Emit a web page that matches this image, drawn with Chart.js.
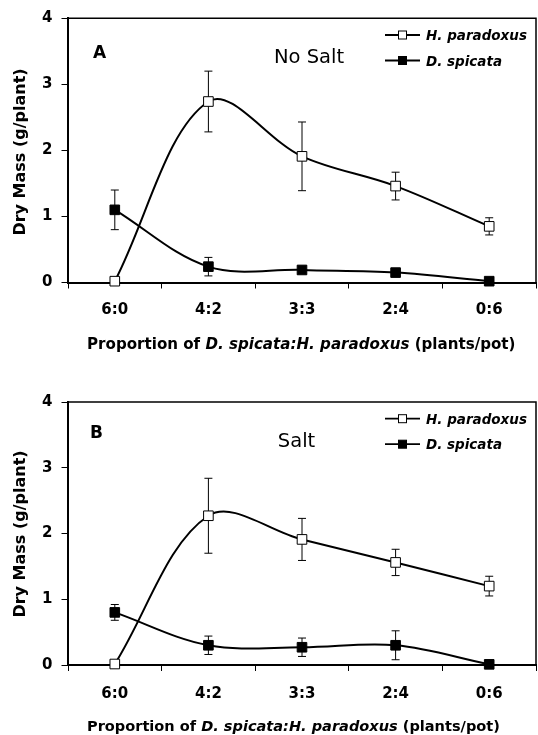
<!DOCTYPE html>
<html><head><meta charset="utf-8">
<script src="https://cdn.jsdelivr.net/npm/chart.js@4.4.0/dist/chart.umd.min.js"></script>
<style>
html,body{margin:0;padding:0;background:#fff;}
#wrapA{position:absolute;left:0;top:0;width:538px;height:360px;}
#wrapB{position:absolute;left:0;top:370px;width:538px;height:365px;}
</style></head><body>
<div id="wrapA"><canvas id="chartA"></canvas></div>
<div id="wrapB"><canvas id="chartB"></canvas></div>
<script>
// ---- data ----
const categories = ['6:0', '4:2', '3:3', '2:4', '0:6'];
const yTickValues = [0, 1, 2, 3, 4];
const seriesNames = ['H. paradoxus', 'D. spicata'];

const hParadoxusNoSalt    = [0.02, 2.74, 1.91, 1.46, 0.85];
const hParadoxusNoSaltErr = [0, 0.46, 0.52, 0.21, 0.13];
const dSpicataNoSalt      = [1.10, 0.24, 0.19, 0.15, 0.02];
const dSpicataNoSaltErr   = [0.30, 0.14, 0.04, 0.04, 0];

const hParadoxusSalt      = [0.015, 2.27, 1.91, 1.56, 1.20];
const hParadoxusSaltErr   = [0, 0.57, 0.32, 0.20, 0.15];
const dSpicataSalt        = [0.80, 0.30, 0.27, 0.30, 0.01];
const dSpicataSaltErr     = [0.12, 0.14, 0.14, 0.22, 0];

const FONT = 'DejaVu Sans';

const errorBarPlugin = {
  id: 'errorBars',
  beforeDatasetsDraw(chart) {
    const ctx = chart.ctx, ys = chart.scales.y;
    ctx.save();
    ctx.strokeStyle = '#000';
    ctx.lineWidth = 1;
    chart.data.datasets.forEach((ds, i) => {
      const meta = chart.getDatasetMeta(i);
      ds.errors.forEach((e, j) => {
        if (!e) return;
        const x = meta.data[j].x;
        const yt = ys.getPixelForValue(ds.data[j] + e);
        const yb = ys.getPixelForValue(Math.max(0, ds.data[j] - e));
        ctx.beginPath();
        ctx.moveTo(x, yt); ctx.lineTo(x, yb);
        ctx.moveTo(x - 4, yt); ctx.lineTo(x + 4, yt);
        ctx.moveTo(x - 4, yb); ctx.lineTo(x + 4, yb);
        ctx.stroke();
      });
    });
    ctx.restore();
  }
};

function decorPlugin(cfg) {
  return {
    id: 'decor',
    beforeDatasetsDraw(chart) {
      const {ctx, chartArea: a} = chart;
      ctx.save();
      ctx.strokeStyle = '#000';
      ctx.lineWidth = 1.5;
      ctx.beginPath();
      ctx.moveTo(a.left, a.top);
      ctx.lineTo(a.right, a.top);
      ctx.lineTo(a.right, a.bottom);
      ctx.stroke();
      ctx.restore();
    },
    afterDraw(chart) {
      const {ctx, chartArea: a} = chart;
      ctx.save();
      ctx.fillStyle = '#000';
      ctx.textBaseline = 'alphabetic';
      // panel letter
      ctx.font = 'bold 17px "' + FONT + '"';
      ctx.textAlign = 'left';
      ctx.fillText(cfg.letter, cfg.letterX, a.top + cfg.letterDy);
      // condition
      ctx.font = '19.5px "' + FONT + '"';
      ctx.textAlign = 'center';
      ctx.fillText(cfg.condition, cfg.condX, a.top + cfg.condDy);
      // legend
      const rows = [16.7, 42.2];
      seriesNames.forEach((name, k) => {
        const y = a.top + rows[k];
        ctx.strokeStyle = '#000';
        ctx.lineWidth = 1.8;
        ctx.beginPath(); ctx.moveTo(385, y); ctx.lineTo(420, y); ctx.stroke();
        ctx.fillStyle = k === 0 ? '#fff' : '#000';
        ctx.fillRect(398.5, y - 4, 8, 8);
        ctx.lineWidth = 1;
        ctx.strokeRect(398.5, y - 4, 8, 8);
        ctx.fillStyle = '#000';
        ctx.font = 'italic bold 13.5px "' + FONT + '"';
        ctx.textAlign = 'left';
        ctx.fillText(name, 426, y + 5);
      });
      // y title
      ctx.save();
      ctx.translate(21, cfg.yTitleY);
      ctx.rotate(-Math.PI / 2);
      ctx.font = 'bold 16px "' + FONT + '"';
      ctx.textAlign = 'center';
      ctx.textBaseline = 'middle';
      ctx.fillText('Dry Mass (g/plant)', 0, 0);
      ctx.restore();
      // x title (mixed styles)
      const parts = [
        ['Proportion of ', 'bold'],
        ['D. spicata:H. paradoxus', 'italic bold'],
        [' (plants/pot)', 'bold']
      ];
      let x = 87;
      ctx.textAlign = 'left';
      parts.forEach(([t, st]) => {
        ctx.font = st + ' ' + cfg.titleSize + 'px "' + FONT + '"';
        ctx.fillText(t, x, cfg.titleBaseline);
        x += ctx.measureText(t).width;
      });
      ctx.restore();
    }
  };
}

function makeChart(id, cfg) {
  const common = {
    borderColor: '#000', borderWidth: 2, pointStyle: 'rect', pointRadius: 6.8,
    pointHoverRadius: 6.8, pointBorderColor: '#000', pointBorderWidth: 1,
    tension: 0.35, clip: false, fill: false
  };
  return new Chart(document.getElementById(id), {
    type: 'line',
    data: {
      labels: categories,
      datasets: [
        Object.assign({}, common, { label: seriesNames[0], data: cfg.hp, errors: cfg.hpErr,
          backgroundColor: '#fff', pointBackgroundColor: '#fff' }),
        Object.assign({}, common, { label: seriesNames[1], data: cfg.ds, errors: cfg.dsErr,
          backgroundColor: '#000', pointBackgroundColor: '#000' })
      ]
    },
    options: {
      responsive: true, maintainAspectRatio: false, animation: false, devicePixelRatio: 1,
      events: [],
      layout: { autoPadding: false, padding: { top: cfg.top, right: 2, left: 0, bottom: 0 } },
      plugins: { legend: { display: false }, tooltip: { enabled: false }, title: { display: false } },
      scales: {
        x: {
          type: 'category', offset: true,
          grid: { display: true, drawOnChartArea: false, drawTicks: true, tickLength: 6,
                  color: '#000', lineWidth: 1, offset: true },
          border: { display: true, color: '#000', width: 2 },
          ticks: { color: '#000', font: { family: FONT, weight: 'bold', size: 15 },
                   padding: cfg.xPad, maxRotation: 0, autoSkip: false },
          afterFit: s => { s.height = cfg.xAxisH; }
        },
        y: {
          min: 0, max: 4,
          afterBuildTicks: s => { s.ticks = yTickValues.map(v => ({ value: v })); },
          ticks: { color: '#000', font: { family: FONT, weight: 'bold', size: 15 }, padding: 9 },
          grid: { display: true, drawOnChartArea: false, drawTicks: true, tickLength: 6.5,
                  color: '#000', lineWidth: 1 },
          border: { display: true, color: '#000', width: 2 },
          afterFit: s => { s.width = 68; }
        }
      }
    },
    plugins: [errorBarPlugin, decorPlugin(cfg)]
  });
}

makeChart('chartA', {
  hp: hParadoxusNoSalt, hpErr: hParadoxusNoSaltErr,
  ds: dSpicataNoSalt, dsErr: dSpicataNoSaltErr,
  top: 18.3, xAxisH: 77.5, xPad: 13,
  letter: 'A', letterX: 93, letterDy: 39.5,
  condition: 'No Salt', condX: 309, condDy: 44.2,
  yTitleY: 152, titleSize: 15.1, titleBaseline: 349
});
makeChart('chartB', {
  hp: hParadoxusSalt, hpErr: hParadoxusSaltErr,
  ds: dSpicataSalt, dsErr: dSpicataSaltErr,
  top: 32, xAxisH: 70, xPad: 14.5,
  letter: 'B', letterX: 90, letterDy: 35.7,
  condition: 'Salt', condX: 296.5, condDy: 44.5,
  yTitleY: 164, titleSize: 14.55, titleBaseline: 361
});
</script>
</body></html>
